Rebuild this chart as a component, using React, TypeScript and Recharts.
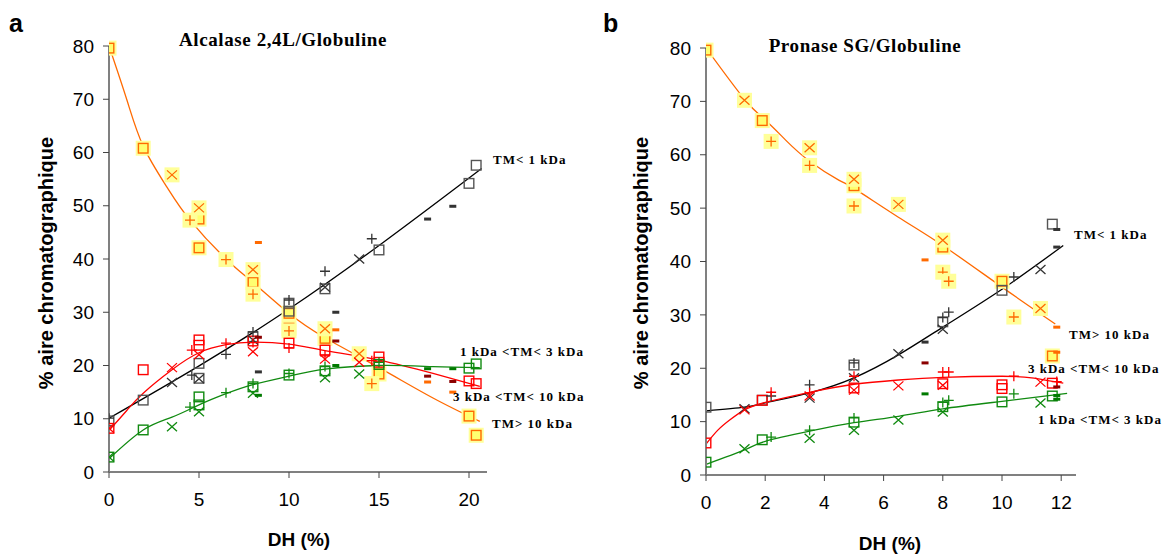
import React from 'react';
import { ComposedChart, Scatter, Line, XAxis, YAxis } from 'recharts';

type P = { x: number; y: number };

// ---------- Panel a : Alcalase 2,4L/Globuline ----------
const aXTicks = [0, 5, 10, 15, 20];
const yTicks = [0, 10, 20, 30, 40, 50, 60, 70, 80];

// TM > 10 kDa (orange)
const aOrangeSq: P[] = [{x:0,y:79.6},{x:1.9,y:60.8},{x:5,y:47.5},{x:5,y:42.1},{x:8,y:35.6},{x:10,y:29.8},{x:10,y:27},{x:12,y:25.1},{x:15,y:18.4},{x:20,y:10.5},{x:20.4,y:6.9}];
const aOrangeX: P[] = [{x:3.5,y:55.8},{x:5,y:49.6},{x:8,y:38},{x:12,y:26.9},{x:13.9,y:22.2}];
const aOrangePlus: P[] = [{x:4.5,y:47.3},{x:6.5,y:39.9},{x:8,y:33.4},{x:10,y:26.5},{x:14.6,y:16.6}];
const aOrangeDash: P[] = [{x:8.3,y:43.1},{x:12.6,y:26.7},{x:17.7,y:16.9},{x:19.1,y:15}];
const aOrangeFit: P[] = [{x:0,y:80},{x:1,y:69.8},{x:1.9,y:61.2},{x:3.2,y:53.6},{x:4.5,y:47.3},{x:6.5,y:40},{x:8,y:35.6},{x:10,y:29.8},{x:12,y:25.2},{x:15,y:19.6},{x:18,y:13.9},{x:20.6,y:9.5}];

// TM < 1 kDa (black)
const aBlackSq: P[] = [{x:0,y:9.6},{x:1.9,y:13.5},{x:5,y:20.4},{x:5,y:17.6},{x:8,y:25.4},{x:10,y:31.7},{x:10,y:30.2},{x:12,y:34.4},{x:15,y:41.7},{x:20,y:54.2},{x:20.4,y:57.6}];
const aBlackX: P[] = [{x:3.5,y:16.8},{x:5,y:17.5},{x:8,y:24.8},{x:12,y:34.7},{x:13.9,y:40}];
const aBlackPlus: P[] = [{x:0,y:10.1},{x:4.6,y:18.2},{x:6.5,y:22.1},{x:8,y:26.3},{x:10,y:32.3},{x:12,y:37.7},{x:14.6,y:43.8}];
const aBlackDash: P[] = [{x:8.3,y:18.8},{x:12.6,y:30},{x:17.7,y:47.5},{x:19.1,y:49.9}];
const aBlackFit: P[] = [{x:0,y:10.1},{x:10,y:30.6},{x:20.7,y:57}];

// 3 kDa < TM < 10 kDa (red)
const aRedSq: P[] = [{x:0,y:8.2},{x:1.9,y:19.2},{x:5,y:24.8},{x:5,y:23.8},{x:8,y:24.6},{x:10,y:24.2},{x:12,y:22.9},{x:15,y:21.6},{x:15,y:20.6},{x:20,y:17.1},{x:20.4,y:16.6}];
const aRedX: P[] = [{x:0,y:8.2},{x:3.5,y:19.6},{x:5,y:22},{x:8,y:22.6},{x:12,y:21.2},{x:13.9,y:20.6}];
const aRedPlus: P[] = [{x:4.6,y:22.9},{x:6.5,y:24.2},{x:8,y:24.3},{x:10,y:23.3},{x:12,y:21.8},{x:14.6,y:20.9}];
const aRedDash: P[] = [{x:8.3,y:25.3},{x:12.6,y:24.6},{x:17.7,y:18},{x:19.1,y:17}];
const aRedFit: P[] = [{x:0,y:7.8},{x:1,y:11.6},{x:1.9,y:14.8},{x:3.5,y:19.2},{x:5,y:22.4},{x:6.5,y:23.9},{x:8,y:24.4},{x:10,y:24},{x:12,y:22.8},{x:15,y:21},{x:18,y:18.5},{x:20.6,y:16.1}];

// 1 kDa < TM < 3 kDa (green)
const aGreenSq: P[] = [{x:0,y:2.8},{x:1.9,y:7.9},{x:5,y:14.1},{x:5,y:12.6},{x:8,y:16},{x:10,y:18.2},{x:12,y:19},{x:15,y:20.2},{x:20,y:19.5},{x:20.4,y:20.3}];
const aGreenX: P[] = [{x:0,y:2.8},{x:3.5,y:8.5},{x:5,y:11.3},{x:8,y:14.8},{x:12,y:17.7},{x:13.9,y:18.4}];
const aGreenPlus: P[] = [{x:4.5,y:12.2},{x:6.5,y:14.9},{x:8,y:16.6},{x:10,y:18.5},{x:12,y:19.8},{x:15,y:20.6}];
const aGreenDash: P[] = [{x:8.3,y:14.4},{x:12.6,y:20},{x:17.7,y:19.4},{x:19.1,y:19.4}];
const aGreenFit: P[] = [{x:0,y:2.5},{x:1.9,y:7.9},{x:3.5,y:10.3},{x:5,y:12.6},{x:6.5,y:14.7},{x:8,y:16.4},{x:10,y:18},{x:12,y:19.3},{x:15,y:20},{x:18,y:19.8},{x:20.6,y:19.6}];

// ---------- Panel b : Pronase SG/Globuline ----------
const bXTicks = [0, 2, 4, 6, 8, 10, 12];

const bOrangeSq: P[] = [{x:0,y:79.6},{x:1.9,y:66.4},{x:5,y:54.2},{x:8,y:42.7},{x:10,y:36.3},{x:11.7,y:22.3}];
const bOrangeX: P[] = [{x:1.3,y:70.2},{x:3.5,y:61.3},{x:5,y:55.4},{x:6.5,y:50.7},{x:8,y:44},{x:11.3,y:31.2}];
const bOrangePlus: P[] = [{x:2.2,y:62.5},{x:3.5,y:58},{x:5,y:50.4},{x:8,y:38},{x:8.2,y:36.3},{x:10.4,y:29.6}];
const bOrangeDash: P[] = [{x:7.4,y:40.3},{x:11.85,y:27.7},{x:11.85,y:23}];
const bOrangeFit: P[] = [{x:0,y:80},{x:1.3,y:70.4},{x:2,y:66.5},{x:2.7,y:62.7},{x:3.5,y:58.8},{x:4.5,y:55.2},{x:5,y:53.7},{x:6.5,y:48.3},{x:8,y:43},{x:10,y:35.2},{x:11.8,y:28.3}];

const bBlackSq: P[] = [{x:0,y:12.7},{x:1.9,y:14},{x:5,y:20.6},{x:8,y:28.7},{x:10,y:34.6},{x:11.7,y:47}];
const bBlackX: P[] = [{x:1.3,y:12.4},{x:3.5,y:14.4},{x:5,y:18.2},{x:6.5,y:22.7},{x:8,y:27.3},{x:11.3,y:38.5}];
const bBlackPlus: P[] = [{x:2.2,y:14.8},{x:3.5,y:16.9},{x:5,y:21},{x:8,y:29.5},{x:8.2,y:30.5},{x:10.4,y:37.1}];
const bBlackDash: P[] = [{x:7.4,y:24.9},{x:11.85,y:46},{x:11.85,y:42.7}];
const bBlackFit: P[] = [{x:0,y:12},{x:1.3,y:12.7},{x:2,y:13.5},{x:3.5,y:15.4},{x:5,y:18.2},{x:6.5,y:22.5},{x:8,y:27.7},{x:10,y:34.8},{x:12.07,y:43}];

const bRedSq: P[] = [{x:0,y:6},{x:1.9,y:14},{x:5,y:16.3},{x:8,y:17.1},{x:10,y:16.9},{x:10,y:16.2},{x:11.7,y:17.2}];
const bRedX: P[] = [{x:1.3,y:12.2},{x:3.5,y:14.8},{x:5,y:15.9},{x:6.5,y:16.7},{x:8,y:16.8},{x:11.3,y:17.4}];
const bRedPlus: P[] = [{x:2.2,y:15.5},{x:3.5,y:15.4},{x:5,y:18.5},{x:8,y:19.3},{x:8.2,y:19.3},{x:10.4,y:18.5},{x:11.85,y:17.5}];
const bRedDash: P[] = [{x:7.4,y:21},{x:11.85,y:16.5}];
const bRedFit: P[] = [{x:0,y:5.8},{x:0.4,y:8.4},{x:0.8,y:10.3},{x:1.3,y:12.2},{x:2,y:13.6},{x:3.5,y:15.5},{x:5,y:17},{x:6.5,y:17.8},{x:8,y:18.3},{x:10,y:18.5},{x:11,y:18.2},{x:12.07,y:17.2}];

const bGreenSq: P[] = [{x:0,y:2.4},{x:1.9,y:6.6},{x:5,y:9.9},{x:8,y:12.8},{x:10,y:13.7},{x:11.7,y:14.8}];
const bGreenX: P[] = [{x:1.3,y:4.9},{x:3.5,y:6.9},{x:5,y:8.4},{x:6.5,y:10.3},{x:8,y:11.8},{x:11.3,y:13.5}];
const bGreenPlus: P[] = [{x:2.2,y:7.1},{x:3.5,y:8.4},{x:5,y:10.7},{x:8,y:13.6},{x:8.2,y:14},{x:10.4,y:15.2}];
const bGreenDash: P[] = [{x:7.4,y:15.2},{x:11.85,y:14.9},{x:11.85,y:14.2}];
const bGreenFit: P[] = [{x:0,y:2},{x:1.3,y:4.7},{x:2,y:6.3},{x:3.5,y:8.2},{x:5,y:9.8},{x:6.5,y:11},{x:8,y:12.4},{x:10,y:13.8},{x:12.2,y:15.3}];

// ---------- styles ----------
const ORANGE = '#FF6A00';
const BLACK = '#333333';
const RED = '#FF0000';
const GREEN = '#108A10';
const HL = '#FFFF99';

type Kind = 'sq' | 'x' | 'plus' | 'dash';

const makeShape = (kind: Kind, color: string, hl: boolean) => (props: any) => {
  const { cx, cy } = props;
  if (cx == null || cy == null || isNaN(cx) || isNaN(cy)) return <g />;
  return (
    <g>
      {hl && <rect x={cx - 7.5} y={cy - 7.5} width={15} height={15} fill={HL} />}
      {kind === 'sq' && (
        <rect x={cx - 4.8} y={cy - 4.8} width={9.6} height={9.6} fill={hl ? '#FFFF70' : 'none'} stroke={color} strokeWidth={1.4} />
      )}
      {kind === 'plus' && (
        <path d={`M${cx - 5},${cy}H${cx + 5}M${cx},${cy - 5}V${cy + 5}`} stroke={color} strokeWidth={1.3} fill="none" />
      )}
      {kind === 'x' && (
        <path d={`M${cx - 5},${cy - 4.5}L${cx + 5},${cy + 4.5}M${cx - 5},${cy + 4.5}L${cx + 5},${cy - 4.5}`} stroke={color} strokeWidth={1.3} fill="none" />
      )}
      {kind === 'dash' && <rect x={cx - 3.5} y={cy - 1.5} width={7} height={3} fill={color} />}
    </g>
  );
};

type Group = { sq: P[]; x: P[]; plus: P[]; dash: P[]; fit: P[]; color: string; sqColor: string; dashColor: string; hl: boolean };

const aGroups: Group[] = [
  { sq: aOrangeSq, x: aOrangeX, plus: aOrangePlus, dash: aOrangeDash, fit: aOrangeFit, color: ORANGE, sqColor: ORANGE, dashColor: ORANGE, hl: true },
  { sq: aBlackSq, x: aBlackX, plus: aBlackPlus, dash: aBlackDash, fit: aBlackFit, color: BLACK, sqColor: '#555555', dashColor: '#333333', hl: false },
  { sq: aRedSq, x: aRedX, plus: aRedPlus, dash: aRedDash, fit: aRedFit, color: RED, sqColor: RED, dashColor: '#8B0000', hl: false },
  { sq: aGreenSq, x: aGreenX, plus: aGreenPlus, dash: aGreenDash, fit: aGreenFit, color: GREEN, sqColor: GREEN, dashColor: '#007A00', hl: false },
];
const bGroups: Group[] = [
  { sq: bOrangeSq, x: bOrangeX, plus: bOrangePlus, dash: bOrangeDash, fit: bOrangeFit, color: ORANGE, sqColor: ORANGE, dashColor: ORANGE, hl: true },
  { sq: bBlackSq, x: bBlackX, plus: bBlackPlus, dash: bBlackDash, fit: bBlackFit, color: BLACK, sqColor: '#555555', dashColor: '#333333', hl: false },
  { sq: bRedSq, x: bRedX, plus: bRedPlus, dash: bRedDash, fit: bRedFit, color: RED, sqColor: RED, dashColor: '#8B0000', hl: false },
  { sq: bGreenSq, x: bGreenX, plus: bGreenPlus, dash: bGreenDash, fit: bGreenFit, color: GREEN, sqColor: GREEN, dashColor: '#007A00', hl: false },
];

const tickFont = { fontFamily: 'Arial, "Liberation Sans", sans-serif', fontSize: 19, fill: '#000' };

function Panel(props: { groups: Group[]; xTicks: number[]; xMax: number; width: number; margin: any; id: string }) {
  const { groups, xTicks, xMax, width, margin, id } = props;
  const lineColor = (g: Group) => (g.color === BLACK ? '#000' : g.color);
  return (
    <ComposedChart width={width} height={554} margin={margin}>
      <XAxis
        type="number"
        dataKey="x"
        domain={[0, xMax]}
        ticks={xTicks}
        allowDataOverflow
        height={40}
        tick={tickFont}
        tickMargin={15}
        tickSize={6}
        axisLine={{ stroke: '#808080', strokeWidth: 2 }}
        tickLine={{ stroke: '#444' }}
      />
      <YAxis
        type="number"
        dataKey="y"
        domain={[0, 80]}
        ticks={yTicks}
        width={60}
        tick={tickFont}
        tickMargin={9}
        tickSize={6}
        axisLine={{ stroke: '#808080', strokeWidth: 2 }}
        tickLine={{ stroke: '#444' }}
      />
      {groups.filter((g) => g.hl).map((g, i) => (
        <Scatter key={`${id}hsq${i}`} data={g.sq} dataKey="y" isAnimationActive={false} shape={makeShape('sq', g.sqColor, true)} />
      ))}
      {groups.filter((g) => g.hl).map((g, i) => (
        <Scatter key={`${id}hx${i}`} data={g.x} dataKey="y" isAnimationActive={false} shape={makeShape('x', g.color, true)} />
      ))}
      {groups.filter((g) => g.hl).map((g, i) => (
        <Scatter key={`${id}hp${i}`} data={g.plus} dataKey="y" isAnimationActive={false} shape={makeShape('plus', g.color, true)} />
      ))}
      {groups.filter((g) => g.hl).map((g, i) => (
        <Scatter key={`${id}hd${i}`} data={g.dash} dataKey="y" isAnimationActive={false} shape={makeShape('dash', g.dashColor, false)} />
      ))}
      {groups.map((g, i) => (
        <Line key={`${id}l${i}`} data={g.fit} dataKey="y" type="natural" stroke={lineColor(g)} strokeWidth={1.3} dot={false} activeDot={false} isAnimationActive={false} />
      ))}
      {groups.filter((g) => !g.hl).map((g, i) => (
        <Scatter key={`${id}sq${i}`} data={g.sq} dataKey="y" isAnimationActive={false} shape={makeShape('sq', g.sqColor, false)} />
      ))}
      {groups.filter((g) => !g.hl).map((g, i) => (
        <Scatter key={`${id}x${i}`} data={g.x} dataKey="y" isAnimationActive={false} shape={makeShape('x', g.color, false)} />
      ))}
      {groups.filter((g) => !g.hl).map((g, i) => (
        <Scatter key={`${id}p${i}`} data={g.plus} dataKey="y" isAnimationActive={false} shape={makeShape('plus', g.color, false)} />
      ))}
      {groups.filter((g) => !g.hl).map((g, i) => (
        <Scatter key={`${id}d${i}`} data={g.dash} dataKey="y" isAnimationActive={false} shape={makeShape('dash', g.dashColor, false)} />
      ))}
    </ComposedChart>
  );
}

const sans = 'Arial, "Liberation Sans", sans-serif';
const serif = '"Times New Roman", "Liberation Serif", serif';

const abs = (left: number, top: number, style: React.CSSProperties = {}): React.CSSProperties => ({
  position: 'absolute',
  left,
  top,
  whiteSpace: 'nowrap',
  lineHeight: 1,
  ...style,
});

const seriesLabel: React.CSSProperties = { fontFamily: serif, fontWeight: 'bold', fontSize: 13, letterSpacing: 1, color: '#000' };
const titleStyle: React.CSSProperties = { fontFamily: serif, fontWeight: 'bold', fontSize: 19, transform: 'translate(-50%, -50%)', letterSpacing: 0.6 };

export default function App() {
  return (
    <div style={{ position: 'absolute', left: 0, top: 0, width: 1169, height: 554, background: '#fff', overflow: 'hidden' }}>
      <div style={abs(0, 0)}>
        <Panel id="a" groups={aGroups} xTicks={aXTicks} xMax={21} width={600} margin={{ top: 46, right: 113, bottom: 42, left: 49 }} />
      </div>
      <div style={abs(597, 0)}>
        <Panel id="b" groups={bGroups} xTicks={bXTicks} xMax={12.5} width={572} margin={{ top: 48, right: 93, bottom: 39, left: 49 }} />
      </div>

      {/* panel letters */}
      <div style={abs(9, 11, { fontFamily: sans, fontWeight: 'bold', fontSize: 25 })}>a</div>
      <div style={abs(603, 11, { fontFamily: sans, fontWeight: 'bold', fontSize: 25 })}>b</div>

      {/* titles */}
      <div style={abs(283, 39, titleStyle)}>Alcalase 2,4L/Globuline</div>
      <div style={abs(865, 45, titleStyle)}>Pronase SG/Globuline</div>

      {/* y axis titles */}
      <div style={abs(46, 263, { fontFamily: sans, fontWeight: 'bold', fontSize: 20, transform: 'translate(-50%, -50%) rotate(-90deg)' })}>% aire chromatographique</div>
      <div style={abs(641, 263, { fontFamily: sans, fontWeight: 'bold', fontSize: 20, transform: 'translate(-50%, -50%) rotate(-90deg)' })}>% aire chromatographique</div>

      {/* x axis titles */}
      <div style={abs(299, 539, { fontFamily: sans, fontWeight: 'bold', fontSize: 19, transform: 'translate(-50%, -50%)' })}>DH (%)</div>
      <div style={abs(890, 543, { fontFamily: sans, fontWeight: 'bold', fontSize: 19, transform: 'translate(-50%, -50%)' })}>DH (%)</div>

      {/* series labels panel a */}
      <div style={abs(493, 153, seriesLabel)}>TM&lt; 1 kDa</div>
      <div style={abs(460, 345, seriesLabel)}>1 kDa &lt;TM&lt; 3 kDa</div>
      <div style={abs(453, 390, seriesLabel)}>3 kDa &lt;TM&lt; 10 kDa</div>
      <div style={abs(492, 417, seriesLabel)}>TM&gt; 10 kDa</div>

      {/* series labels panel b */}
      <div style={abs(1074, 228, seriesLabel)}>TM&lt; 1 kDa</div>
      <div style={abs(1069, 328, seriesLabel)}>TM&gt; 10 kDa</div>
      <div style={abs(1028, 362, seriesLabel)}>3 kDa &lt;TM&lt; 10 kDa</div>
      <div style={abs(1038, 413, seriesLabel)}>1 kDa &lt;TM&lt; 3 kDa</div>
    </div>
  );
}
